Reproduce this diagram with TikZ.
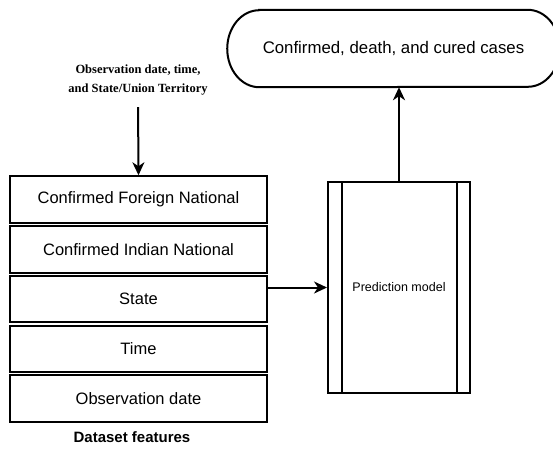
\documentclass[tikz,border=0pt]{standalone}
\usepackage{fontspec}
\setmainfont{Liberation Sans}
\newfontfamily\captionserif{Liberation Serif}
\usetikzlibrary{positioning,arrows.meta}

\begin{document}
\begin{tikzpicture}[
    x=1pt, y=-1pt,
    node distance=1.25pt,
    box/.style={rectangle, minimum width=257pt, minimum height=46.5pt, text centered, draw=black, line width=2pt, font=\fontsize{16.5}{18}\selectfont},
    model/.style={rectangle, minimum width=142pt, minimum height=211pt, draw=black, line width=2pt, font=\fontsize{12.5}{14}\selectfont},
    arrow/.style={line width=2pt,-{Stealth[length=13pt,width=12pt,inset=4pt]}}
]
\useasboundingbox (0,0) rectangle (553,456);

% Nodes
\node (cfn) [box] at (138.5,199.5) {Confirmed Foreign National};
\node (cin) [box, below=of cfn] {Confirmed Indian National};
\node (state) [box, below=of cin] {State};
\node (time) [box, below=of state] {Time};
\node (odate) [box, below=of time] {Observation date};

\node (features) at (132,437) {\fontsize{15}{17}\selectfont\bfseries Dataset features};
\node (obs) [align=center, font={\captionserif\bfseries\fontsize{12.5}{19}\selectfont}] at (138,80.5) {Observation date, time,\\and State/Union Territory};

\node (pred) [model] at (399,287.5) {Prediction model};
\draw [line width=2pt] ([xshift=15pt]pred.north west) -- ([xshift=15pt]pred.south west);
\draw [line width=2pt] ([xshift=-14pt]pred.north east) -- ([xshift=-14pt]pred.south east);

\node (cases) [minimum width=253pt, minimum height=77pt, font=\fontsize{16.8}{19}\selectfont] at (393.5,48.5) {Confirmed, death, and cured cases};
\draw [line width=2pt] (cases.north west) -- (cases.north east)
    arc[start angle=90, end angle=-90, x radius=32pt, y radius=38.5pt] -- (cases.south west)
    arc[start angle=270, end angle=90, x radius=32pt, y radius=38.5pt] -- cycle;

% Flow arrows
\draw [arrow, shorten <=8pt] (obs.south) -- (cfn.north);
\draw [arrow] (state.east |- pred.west) -- (pred.west);
\draw [arrow] (pred.north) -- (pred.north |- cases.south);

\end{tikzpicture}
\end{document}
